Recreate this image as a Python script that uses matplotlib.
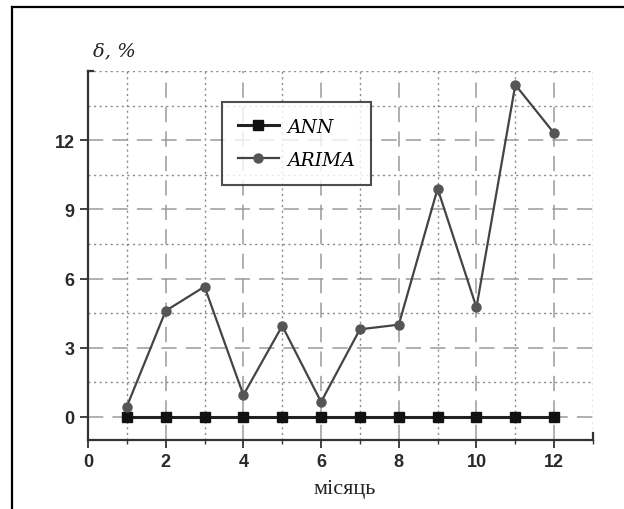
import matplotlib
matplotlib.use("Agg")
import matplotlib.pyplot as plt
from matplotlib.lines import Line2D
from matplotlib.ticker import MultipleLocator

months = [1, 2, 3, 4, 5, 6, 7, 8, 9, 10, 11, 12]
ann = [0, 0, 0, 0, 0, 0, 0, 0, 0, 0, 0, 0]
arima = [0.45, 4.6, 5.65, 0.95, 3.95, 0.65, 3.8, 4.0, 9.9, 4.75, 14.4, 12.3]
x_ticks = [0, 2, 4, 6, 8, 10, 12]
y_ticks = [0, 3, 6, 9, 12]

fig = plt.figure(figsize=(6.24, 5.10), dpi=100)
ax = fig.add_axes([88/624, 1-441/510, 505/624, 369/510])

ax.set_xlim(0, 13)
ax.set_ylim(-1, 15)
ax.set_xticks(x_ticks)
ax.set_yticks(y_ticks)
ax.xaxis.set_minor_locator(MultipleLocator(1))
ax.yaxis.set_minor_locator(MultipleLocator(1.5))

ax.grid(True, which='major', color='#9a9a9a', lw=1.1, linestyle=(0, (10, 6)))
ax.grid(True, which='minor', color='#8a8a8a', lw=1.0, linestyle=(0, (1.5, 2.5)))
ax.set_axisbelow(True)

ax.plot(months, ann, color='#222222', lw=2.2, marker='s', ms=6.5,
        mfc='#111111', mec='#111111', label='ANN', zorder=3)
ax.plot(months, arima, color='#444444', lw=1.6, marker='o', ms=6.5,
        mfc='#555555', mec='#555555', label='ARIMA', zorder=3)

for s in ['top', 'right']:
    ax.spines[s].set_visible(False)
for s in ['left', 'bottom']:
    ax.spines[s].set_color('#333333')
    ax.spines[s].set_linewidth(1.6)

ax.tick_params(axis='both', which='major', direction='out', length=6, width=1.3,
               color='#333333', labelsize=13, labelcolor='#2a2a2a')
ax.tick_params(axis='both', which='minor', direction='out', length=3, width=1.0,
               color='#333333')
ax.tick_params(axis='y', which='minor', length=0)
for lab in ax.get_xticklabels() + ax.get_yticklabels():
    lab.set_fontfamily('Liberation Sans')
    lab.set_fontweight('bold')

# small hooks at the spine ends
ax.plot([0, 0.12], [15, 15], color='#333333', lw=1.6, clip_on=False)
ax.plot([13, 13], [-1, -0.7], color='#333333', lw=1.6, clip_on=False)

leg = ax.legend(loc='upper left', bbox_to_anchor=(0.265, 0.916),
                prop={'family': 'DejaVu Serif', 'style': 'italic', 'size': 13.5},
                frameon=True, fancybox=False, edgecolor='#222222',
                handlelength=2.2, borderpad=0.85, labelspacing=0.8,
                handletextpad=0.45, borderaxespad=0)
leg.get_frame().set_linewidth(1.5)

fig.text(93/624, 1-51/510, 'δ, %', family='DejaVu Serif', style='italic',
         fontsize=14, color='#222222', va='center', ha='left')
fig.text(345/624, 1-490/510, 'місяць', family='Liberation Serif',
         fontsize=16, color='#222222', va='center', ha='center')

fig.add_artist(Line2D([12/624, 12/624], [0, 1-8/510], color='black', lw=1.6))
fig.add_artist(Line2D([12/624, 1], [1-8/510, 1-8/510], color='black', lw=1.6))

fig.savefig('out.png', dpi=100)
